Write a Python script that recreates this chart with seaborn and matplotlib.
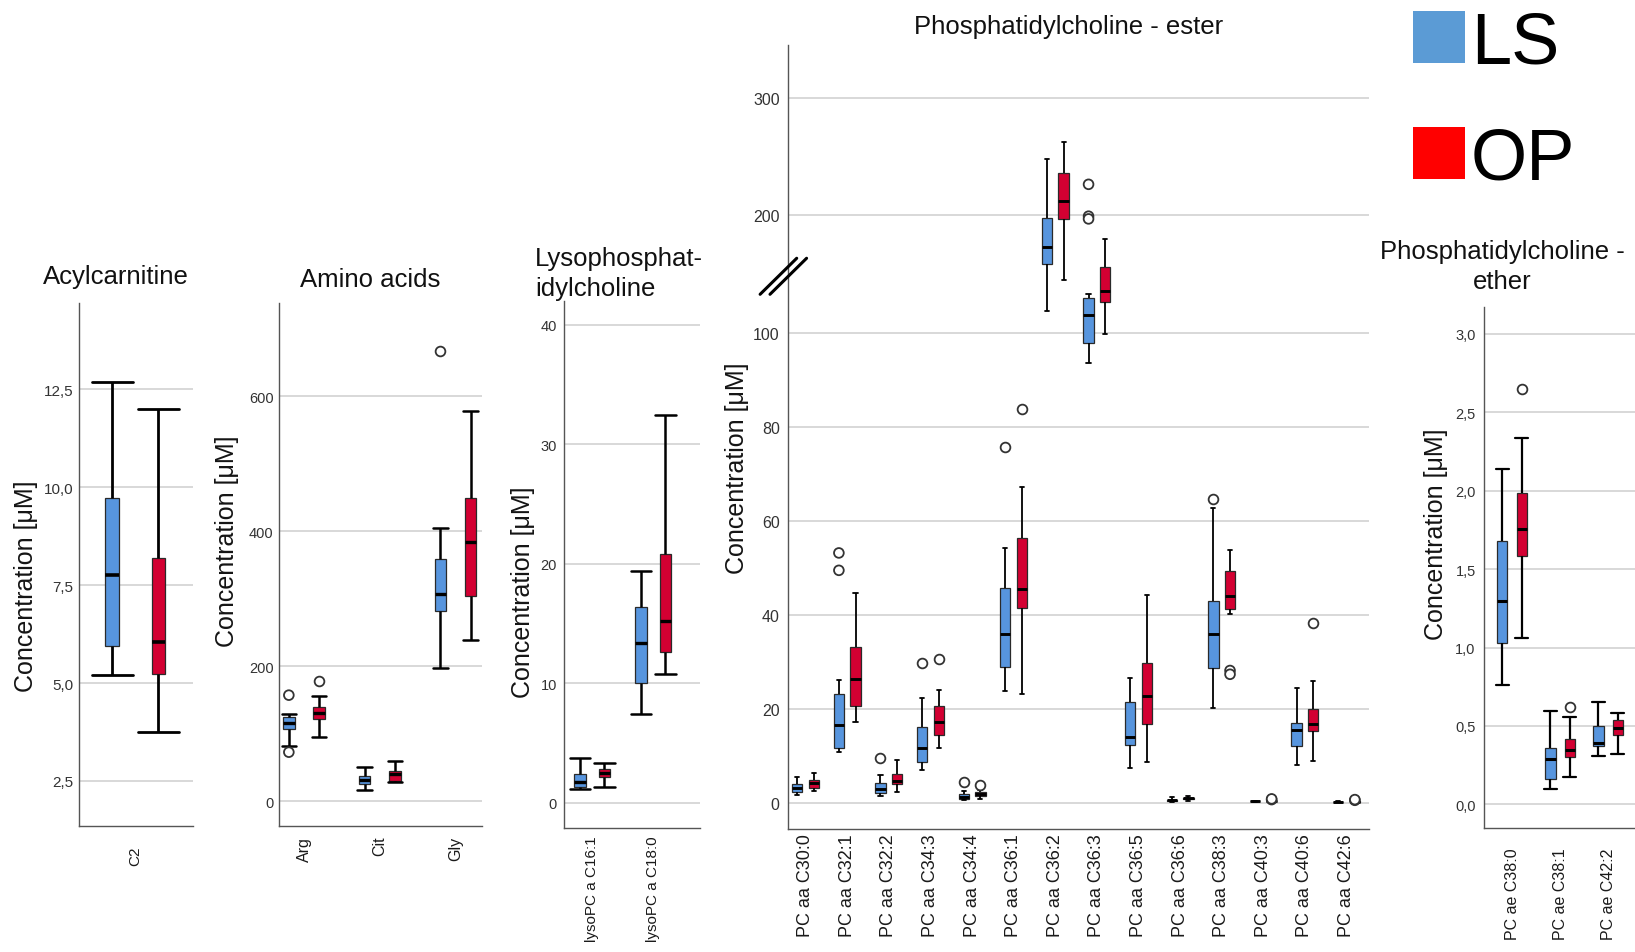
import numpy as np
import pandas as pd
import matplotlib
matplotlib.use("Agg")
import matplotlib.pyplot as plt
import seaborn as sns
from matplotlib.patches import Patch

# ---------------- data (five-number summaries: whisker low, Q1, median, Q3, whisker high) -------------
GROUPS = ["LS", "OP"]

acyl_cats = ["C2"]
acyl_ls = [[5.21, 5.94, 7.76, 9.72, 12.69]]
acyl_op = [[3.75, 5.23, 6.04, 8.20, 12.00]]
acyl_out_ls = [[]]
acyl_out_op = [[]]
acyl_ticks = [2.5, 5.0, 7.5, 10.0, 12.5]
acyl_ticklabels = ["2,5", "5,0", "7,5", "10,0", "12,5"]

amino_cats = ["Arg", "Cit", "Gly"]
amino_ls = [[82, 106, 116, 124.6, 128.5],
            [17, 25.5, 31, 36.6, 49.7],
            [197, 282, 307, 359, 405]]
amino_op = [[95, 121.8, 130, 140, 155.8],
            [28, 30, 39.7, 45, 59.5],
            [238, 304, 384, 449.5, 578]]
amino_out_ls = [[156.9, 72.4], [], [667]]
amino_out_op = [[178.5], [], []]
amino_ticks = [0, 200, 400, 600]
amino_ticklabels = ["0", "200", "400", "600"]

lyso_cats = ["lysoPC a C16:1", "lysoPC a C18:0"]
lyso_ls = [[1.17, 1.36, 1.75, 2.38, 3.74],
           [7.48, 10.05, 13.36, 16.4, 19.44]]
lyso_op = [[1.36, 2.18, 2.53, 2.84, 3.35],
           [10.75, 12.66, 15.23, 20.8, 32.45]]
lyso_out_ls = [[], []]
lyso_out_op = [[], []]
lyso_ticks = [0, 10, 20, 30, 40]
lyso_ticklabels = ["0", "10", "20", "30", "40"]

ester_cats = ["PC aa C30:0", "PC aa C32:1", "PC aa C32:2", "PC aa C34:3", "PC aa C34:4",
              "PC aa C36:1", "PC aa C36:2", "PC aa C36:3", "PC aa C36:5", "PC aa C36:6",
              "PC aa C38:3", "PC aa C40:3", "PC aa C40:6", "PC aa C42:6"]
ester_ls = [[1.77, 2.4, 3.2, 4.0, 5.66],
            [10.8, 11.7, 16.6, 23.3, 26.1],
            [1.56, 2.1, 3.0, 4.2, 6.0],
            [7.1, 8.8, 11.8, 16.2, 22.4],
            [0.64, 0.85, 1.4, 1.9, 2.5],
            [23.9, 29.0, 35.9, 45.7, 54.3],
            [118.2, 158.4, 172.8, 197.7, 247.5],
            [93.6, 97.9, 115.4, 129.3, 132.6],
            [7.4, 12.3, 14.1, 21.4, 26.7],
            [0.3, 0.5, 0.6, 0.7, 1.2],
            [20.3, 28.7, 35.9, 42.9, 62.8],
            [0.3, 0.38, 0.42, 0.46, 0.55],
            [8.1, 12.2, 15.6, 17.1, 24.4],
            [0.22, 0.27, 0.30, 0.33, 0.38]]
ester_op = [[2.6, 3.3, 4.25, 4.9, 6.4],
            [17.3, 20.7, 26.5, 33.1, 44.7],
            [2.4, 4.0, 4.7, 6.3, 9.2],
            [11.8, 14.4, 17.3, 20.7, 24.0],
            [0.85, 1.56, 1.9, 2.3, 2.8],
            [23.3, 41.4, 45.5, 56.4, 67.3],
            [145.1, 196.9, 212.2, 235.7, 262.5],
            [99.8, 126.3, 135.4, 155.7, 180.0],
            [8.85, 16.9, 22.8, 29.7, 44.2],
            [0.5, 0.85, 1.0, 1.15, 1.6],
            [40.3, 41.3, 44.0, 49.3, 53.8],
            [0.25, 0.35, 0.42, 0.5, 0.6],
            [9.0, 15.4, 16.8, 20.1, 26.0],
            [0.2, 0.27, 0.32, 0.38, 0.45]]
ester_out_ls = [[], [53.2, 49.5], [9.7], [29.7], [4.4], [75.7], [], [226.3, 199.2, 196.9],
                [], [], [64.7], [], [], []]
ester_out_op = [[], [], [], [30.7], [3.9], [83.9], [], [], [], [], [28.2, 27.4], [0.75, 0.9],
                [38.2], [0.6, 0.75]]
ester_ticks = [0, 20, 40, 60, 80, 100, 200, 300]
ester_ticklabels = ["0", "20", "40", "60", "80", "100", "200", "300"]

ether_cats = ["PC ae C38:0", "PC ae C38:1", "PC ae C42:2"]
ether_ls = [[0.759, 1.027, 1.296, 1.676, 2.14],
            [0.10, 0.16, 0.29, 0.36, 0.596],
            [0.31, 0.37, 0.39, 0.50, 0.653]]
ether_op = [[1.06, 1.586, 1.756, 1.983, 2.333],
            [0.176, 0.305, 0.345, 0.42, 0.56],
            [0.32, 0.44, 0.49, 0.537, 0.585]]
ether_out_ls = [[], [], []]
ether_out_op = [[2.65], [0.62], []]
ether_ticks = [0.0, 0.5, 1.0, 1.5, 2.0, 2.5, 3.0]
ether_ticklabels = ["0,0", "0,5", "1,0", "1,5", "2,0", "2,5", "3,0"]

titles = ["Acylcarnitine", "Amino acids", "Lysophosphat-\nidylcholine",
          "Phosphatidylcholine - ester", "Phosphatidylcholine -\nether"]
ylabel_text = "Concentration [\u03bcM]"

# ---------------- styling ----------------
BOX_COLORS = {"LS": "#5795DE", "OP": "#D30032"}
LEGEND_COLORS = ["#5B9BD5", "#FF0000"]
REG = ["Liberation Sans", "DejaVu Sans"]
NARROW = ["Liberation Sans Narrow", "Liberation Sans", "DejaVu Sans"]

sns.set_theme(style="white")
plt.rcParams["font.family"] = REG

W, H = 1635, 953
fig = plt.figure(figsize=(W / 100, H / 100), dpi=100)
fig.patch.set_facecolor("white")


def frame(cats, ls, op):
    rows = []
    for c, a, b in zip(cats, ls, op):
        for g, vals in zip(GROUPS, (a, b)):
            for v in vals:
                rows.append((c, g, v))
    return pd.DataFrame(rows, columns=["cat", "grp", "val"])


def rect(l, r, t, b):
    return [l / W, 1 - b / H, (r - l) / W, (b - t) / H]


K = 0.25  # compression above the axis break


def fwd(y):
    y = np.asarray(y, dtype=float)
    return np.where(y <= 100, y, 100 + (y - 100) * K)


def inv(f):
    f = np.asarray(f, dtype=float)
    return np.where(f <= 100, f, 100 + (f - 100) / K)


panels = [
    dict(cats=acyl_cats, ls=acyl_ls, op=acyl_op, ols=acyl_out_ls, oop=acyl_out_op,
         ticks=acyl_ticks, tl=acyl_ticklabels, box=(79, 193, 304, 827), xlim=(-0.49, 0.5),
         ylim=(1.35, 14.7), gap=0.70, capw=0.36, wlw=2.0, mlw=2.6, ysize=11, yfam=REG,
         xsize=11, xfam=REG, xpad=14, ypad=4),
    dict(cats=amino_cats, ls=amino_ls, op=amino_op, ols=amino_out_ls, oop=amino_out_op,
         ticks=amino_ticks, tl=amino_ticklabels, box=(279, 482, 304, 827), xlim=(-0.33, 2.35),
         ylim=(-37, 738), gap=0.62, capw=0.19, wlw=1.8, mlw=2.4, ysize=10.5, yfam=REG,
         xsize=11.5, xfam=NARROW, xpad=7, ypad=4),
    dict(cats=lyso_cats, ls=lyso_ls, op=lyso_op, ols=lyso_out_ls, oop=lyso_out_op,
         ticks=lyso_ticks, tl=lyso_ticklabels, box=(564, 700, 302, 829), xlim=(-0.464, 1.77),
         ylim=(-2.1, 42.0), gap=0.54, capw=0.34, wlw=1.8, mlw=2.4, ysize=10.5, yfam=REG,
         xsize=11, xfam=NARROW, xpad=5, ypad=5),
    dict(cats=ester_cats, ls=ester_ls, op=ester_op, ols=ester_out_ls, oop=ester_out_op,
         ticks=ester_ticks, tl=ester_ticklabels, box=(788, 1369, 46, 830), xlim=(-0.423, 13.54),
         ylim=(-5.5, 344.8), gap=0.38, capw=0.10, wlw=1.3, mlw=2.1, ysize=11.5, yfam=NARROW,
         xsize=13, xfam=REG, xpad=3, ypad=6, broken=True),
    dict(cats=ether_cats, ls=ether_ls, op=ether_op, ols=ether_out_ls, oop=ether_out_op,
         ticks=ether_ticks, tl=ether_ticklabels, box=(1484, 1635, 308, 829), xlim=(-0.583, 2.56),
         ylim=(-0.15, 3.17), gap=0.47, capw=0.27, wlw=1.6, mlw=2.2, ysize=10.5, yfam=REG,
         xsize=11.5, xfam=NARROW, xpad=14, ypad=6),
]

for p in panels:
    l, r, t, b = p["box"]
    ax = fig.add_axes(rect(l, r, t, b))
    df = frame(p["cats"], p["ls"], p["op"])
    sns.boxplot(data=df, x="cat", y="val", hue="grp", order=p["cats"], hue_order=GROUPS,
                palette=BOX_COLORS, saturation=1, width=0.8, gap=p["gap"], whis=(0, 100),
                showfliers=False, linecolor="#2a2a2a", linewidth=0.9,
                medianprops=dict(color="black", linewidth=p["mlw"]),
                whiskerprops=dict(color="black", linewidth=p["wlw"]),
                capprops=dict(color="black", linewidth=p["wlw"]),
                capwidths=p["capw"], legend=False, ax=ax)
    odf = frame(p["cats"], p["ols"], p["oop"])
    if len(odf):
        sns.stripplot(data=odf, x="cat", y="val", hue="grp", order=p["cats"], hue_order=GROUPS,
                      dodge=True, jitter=False, palette={"LS": "white", "OP": "white"},
                      edgecolor="#333333", linewidth=1.3, size=7, legend=False, ax=ax, zorder=5)
    if p.get("broken"):
        ax.set_yscale("function", functions=(fwd, inv))
    ax.set_xlim(*p["xlim"])
    ax.set_ylim(*p["ylim"])
    ax.set_yticks(p["ticks"])
    ax.set_yticklabels(p["tl"])
    ax.set_xlabel("")
    ax.set_ylabel("")
    ax.tick_params(axis="both", length=0)
    ax.tick_params(axis="y", pad=p["ypad"], labelsize=p["ysize"], labelcolor="#333333")
    ax.tick_params(axis="x", pad=p["xpad"], labelsize=p["xsize"], labelrotation=90,
                   labelcolor="#1a1a1a")
    for lab in ax.get_yticklabels():
        lab.set_fontfamily(p["yfam"])
    for lab in ax.get_xticklabels():
        lab.set_fontfamily(p["xfam"])
    for side in ("top", "right"):
        ax.spines[side].set_visible(False)
    for side in ("left", "bottom"):
        ax.spines[side].set_color("#555555")
        ax.spines[side].set_linewidth(1.0)
    ax.yaxis.grid(True, color="#D6D6D6", linewidth=1.3)
    ax.xaxis.grid(False)
    ax.set_axisbelow(True)
    ax.set_facecolor("white")
    if p.get("broken"):
        for dx in (0.0, 0.017):
            ax.plot([-0.048 + dx, 0.015 + dx], [0.682, 0.728], transform=ax.transAxes,
                    clip_on=False, color="black", linewidth=2.2, solid_capstyle="round",
                    zorder=6)

# titles
title_pos = [(116, 277, "center"), (370, 280, "center"), (535, 274, "left"),
             (1069, 27, "center"), (1502, 267, "center")]
for txt, (x, y, ha) in zip(titles, title_pos):
    fig.text(x / W, 1 - y / H, txt, ha=ha, va="center", multialignment=ha,
             fontsize=18.5, color="#111111", linespacing=1.27, family=REG)

# y axis labels
ylab_pos = [(26, 586), (227, 541), (523, 592), (737, 468), (1436, 534)]
for x, y in ylab_pos:
    fig.text(x / W, 1 - y / H, ylabel_text, rotation=90, ha="center", va="center",
             fontsize=18, color="#141414", family=REG)

# legend
handles = [Patch(facecolor=c, edgecolor="none", label=g) for g, c in zip(GROUPS, LEGEND_COLORS)]
fig.legend(handles=handles, loc="upper left", bbox_to_anchor=(1413 / W, 1 - 11 / H),
           frameon=False, fontsize=52, handlelength=0.72, handleheight=0.72,
           handletextpad=0.08, labelspacing=0.68, borderpad=0, borderaxespad=0,
           labelcolor="black")

fig.savefig("out.png", dpi=100, facecolor="white")
